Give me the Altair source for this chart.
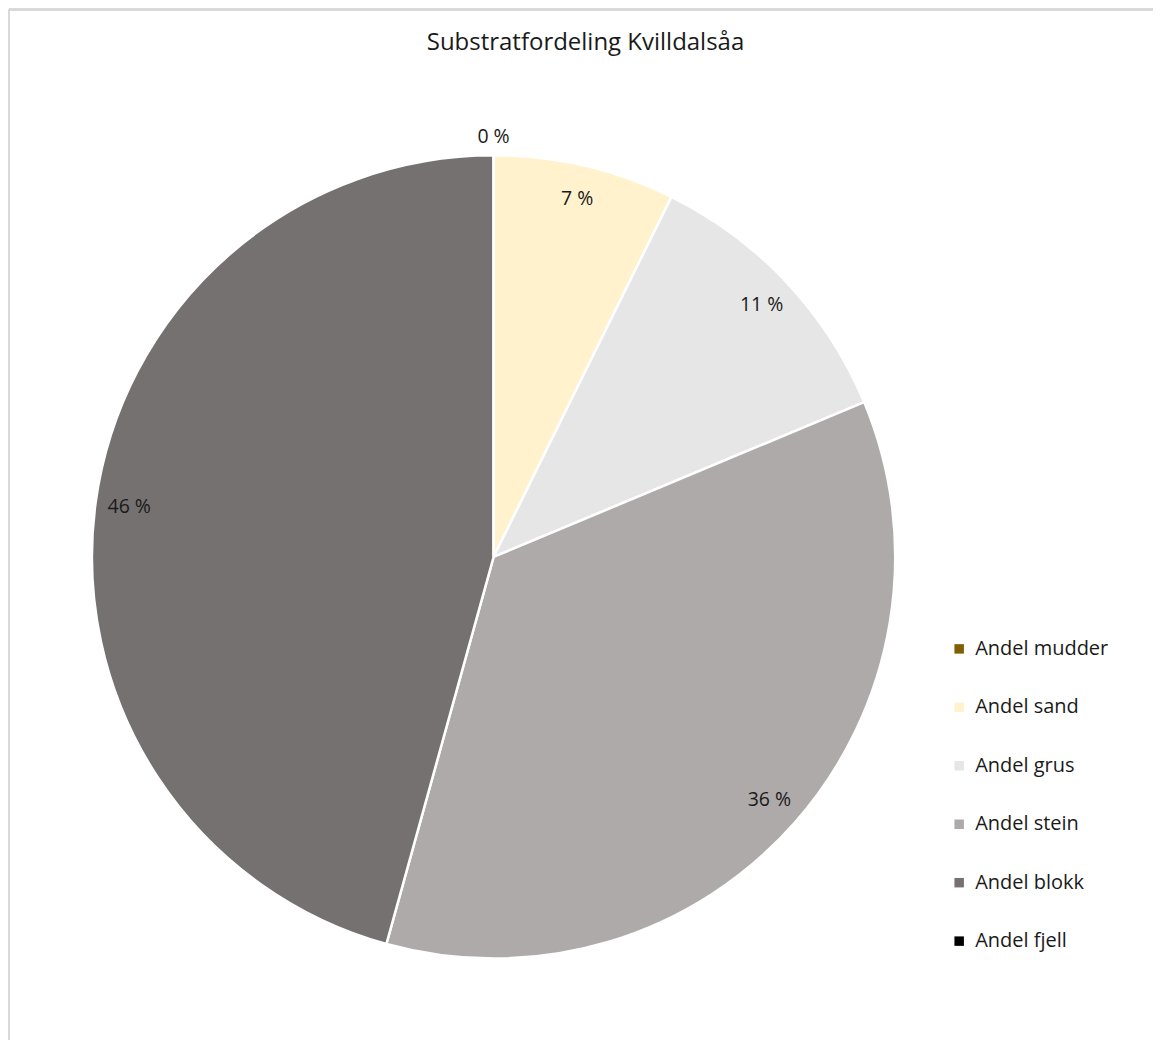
import altair as alt
import pandas as pd

categories = ["Andel mudder", "Andel sand", "Andel grus", "Andel stein", "Andel blokk", "Andel fjell"]
values = [0.0, 7.3, 11.4, 35.6, 45.7, 0.0]
colors = ["#7F6000", "#FFF2CC", "#E7E6E6", "#AEAAAA", "#757171", "#000000"]
title_text = "Substratfordeling Kvilldalsåa"

df = pd.DataFrame({"name": categories, "v": values, "idx": list(range(len(categories)))})

W, H = 1146, 1032
CX, CY, R = 486, 549, 402
FONT = "Open Sans"

base = alt.Chart(df).encode(
    theta=alt.Theta("v:Q", stack=True),
    order=alt.Order("idx:Q"),
)

pie = base.mark_arc(outerRadius=R, stroke="white", strokeWidth=2.5).encode(
    x=alt.value(CX), y=alt.value(CY),
    color=alt.Color(
        "name:N",
        scale=alt.Scale(domain=categories, range=colors),
        legend=alt.Legend(
            title=None, orient="none", legendX=942, legendY=631,
            symbolType="square", symbolSize=90, symbolStrokeWidth=0,
            labelFont=FONT, labelFontSize=20, labelColor="#1a1a1a",
            rowPadding=38.5, labelOffset=6, labelLimit=300,
        ),
    ),
)

inner = base.transform_calculate(
    lbl="datum.v > 0 ? format(round(datum.v), 'd') + ' %' : ''"
).mark_text(radius=368, font=FONT, fontSize=19.5, color="#1a1a1a").encode(
    x=alt.value(CX), y=alt.value(CY), text="lbl:N", detail="name:N"
)

outer = base.transform_calculate(
    lbl="datum.v == 0 && datum.idx == 0 ? format(round(datum.v), 'd') + ' %' : ''"
).mark_text(radius=420, font=FONT, fontSize=19.5, color="#1a1a1a").encode(
    x=alt.value(CX), y=alt.value(CY), text="lbl:N", detail="name:N"
)

title = alt.Chart(pd.DataFrame({"t": [title_text]})).mark_text(
    font=FONT, fontSize=24, color="#1a1a1a", baseline="middle", align="center"
).encode(x=alt.value(578), y=alt.value(35), text="t:N")

border_top = alt.Chart(df).mark_rule(color="#D9D9D9", strokeWidth=2).encode(
    x=alt.value(1), x2=alt.value(W), y=alt.value(1)
)
border_left = alt.Chart(df).mark_rule(color="#D9D9D9", strokeWidth=2).encode(
    x=alt.value(1), y=alt.value(1), y2=alt.value(H)
)

chart = alt.layer(border_top, border_left, pie, inner, outer, title).properties(
    width=W, height=H, padding=0
).configure_view(stroke=None)

chart.save("out.html", embed_options={"renderer": "svg", "actions": False})
